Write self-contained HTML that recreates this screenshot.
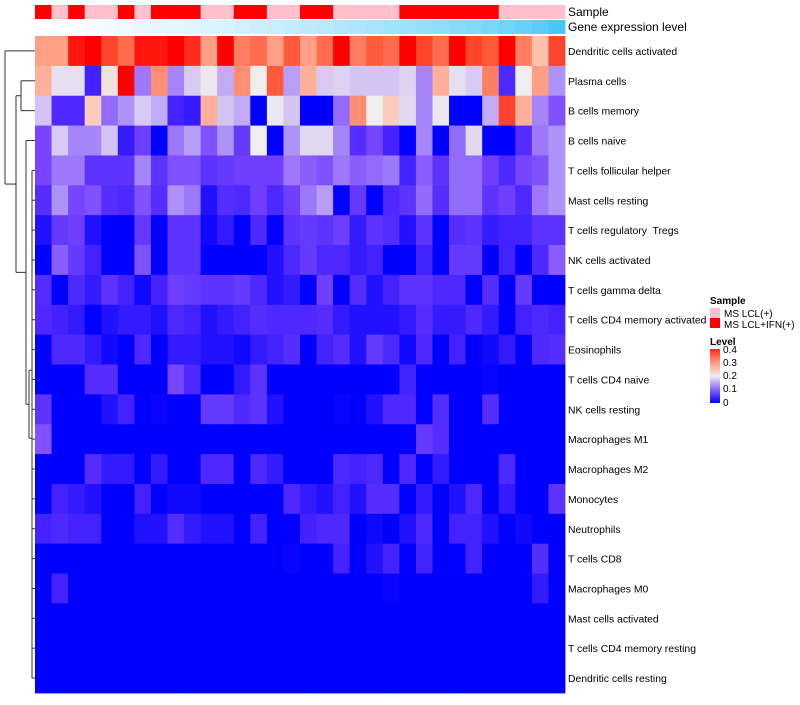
<!DOCTYPE html>
<html><head><meta charset="utf-8"><style>
body{margin:0;background:#fff;width:800px;height:700px;overflow:hidden;font-family:"Liberation Sans",sans-serif}
svg text{font-family:"Liberation Sans",sans-serif}
</style></head><body>
<svg id="chart" width="800" height="700" xmlns="http://www.w3.org/2000/svg">
<g id="dendro" stroke="#333" stroke-width="1" fill="none"></g>
<g id="anno"></g>
<g id="cells"></g>
<g id="labels" font-size="10.4" fill="#000" style="white-space:pre"></g>
<text x="568" y="16" font-size="12">Sample</text>
<text x="568" y="31" font-size="12">Gene expression level</text>
<g>
<text x="710" y="304" font-size="10" font-weight="bold">Sample</text>
<rect x="710" y="308" width="10" height="10" fill="#ffc0cb"/>
<text x="724" y="317" font-size="10">MS LCL(+)</text>
<rect x="710" y="318" width="10" height="10" fill="#ff0000"/>
<text x="724" y="328" font-size="10">MS LCL+IFN(+)</text>
<text x="710" y="345" font-size="10" font-weight="bold">Level</text>
<defs><linearGradient id="lg" x1="0" y1="1" x2="0" y2="0">
<stop offset="0" stop-color="#0000ff"/><stop offset="0.25" stop-color="#8866ff"/><stop offset="0.5" stop-color="#eeeeee"/><stop offset="0.75" stop-color="#ff9a80"/><stop offset="1" stop-color="#ff2a10"/></linearGradient></defs>
<rect x="710" y="349" width="10" height="54" fill="url(#lg)"/>
<g font-size="10">
<text x="723" y="353">0.4</text><text x="723" y="366">0.3</text><text x="723" y="379">0.2</text><text x="723" y="392">0.1</text><text x="723" y="406">0</text>
</g>
</g>
</svg>
<script>
const rowNames=["Dendritic cells activated","Plasma cells","B cells memory","B cells naive","T cells follicular helper","Mast cells resting","T cells regulatory\u00a0 Tregs","NK cells activated","T cells gamma delta","T cells CD4 memory activated","Eosinophils","T cells CD4 naive","NK cells resting","Macrophages M1","Macrophages M2","Monocytes","Neutrophils","T cells CD8","Macrophages M0","Mast cells activated","T cells CD4 memory resting","Dendritic cells resting"];
const sampleGroup=[1,0,1,0,0,1,0,1,1,1,0,0,1,1,0,0,1,1,0,0,0,0,1,1,1,1,1,1,0,0,0,0];
const geneExpr=[0,0.02,0.04,0.06,0.08,0.1,0.12,0.14,0.16,0.18,0.2,0.22,0.25,0.28,0.3,0.33,0.36,0.39,0.42,0.45,0.48,0.51,0.54,0.57,0.6,0.64,0.68,0.72,0.77,0.83,0.9,1];
const r0=[0.32,0.32,0.39,0.4,0.37,0.35,0.39,0.39,0.4,0.38,0.32,0.4,0.34,0.35,0.32,0.36,0.32,0.35,0.4,0.34,0.36,0.35,0.4,0.37,0.35,0.4,0.37,0.36,0.4,0.34,0.3,0.37];
const r1=[0.31,0.24,0.24,0.04,0.27,0.4,0.14,0.33,0.15,0.21,0.25,0.18,0.33,0.26,0.36,0.17,0.31,0.21,0.22,0.2,0.2,0.2,0.22,0.15,0.31,0.24,0.21,0.34,0.05,0.26,0.32,0.16];
const r2=[0.2,0.05,0.05,0.29,0.13,0.16,0.21,0.18,0.04,0.03,0.31,0.2,0.18,0,0.25,0.2,0,0,0.13,0.33,0.26,0.29,0.23,0.15,0.25,0,0,0.18,0.37,0.31,0.15,0.11];
const r3=[0.1,0.21,0.15,0.15,0.2,0.03,0.09,0,0.14,0.17,0.11,0.16,0.08,0.26,0,0.16,0.23,0.23,0.15,0.06,0.1,0.04,0,0.15,0,0.13,0.23,0,0,0.06,0.14,0.16];
const r4=[0.1,0.14,0.14,0.07,0.07,0.07,0.15,0.07,0.11,0.11,0.07,0.08,0.09,0.09,0.09,0.14,0.12,0.11,0.14,0.12,0.13,0.14,0.04,0.12,0.07,0.13,0.13,0.09,0.05,0.1,0.11,0.16];
const r5=[0.06,0.16,0.1,0.11,0.06,0.05,0.11,0.06,0.16,0.14,0.02,0.06,0.05,0.09,0.05,0.09,0.14,0.17,0,0.08,0,0.05,0.07,0.13,0.06,0.13,0.13,0.07,0.09,0.05,0.14,0.16];
const r6=[0.02,0.08,0.09,0.02,0,0,0.08,0,0.07,0.07,0.01,0.03,0,0.05,0,0.07,0.08,0.07,0.09,0.03,0.07,0.06,0.02,0.07,0,0.06,0.07,0.03,0.04,0.04,0.07,0.07];
const r7=[0,0.12,0.08,0.04,0,0,0.11,0,0.07,0.07,0,0,0,0,0.02,0.05,0.08,0.05,0.05,0.03,0.04,0,0,0.04,0,0.08,0.08,0,0.04,0,0.05,0.12];
const r8=[0.06,0,0.05,0.03,0.07,0.04,0.01,0.04,0.09,0.08,0.07,0.07,0.08,0.05,0.02,0.03,0,0.09,0,0.06,0.02,0.04,0.07,0.07,0.05,0.05,0,0.06,0,0.08,0,0];
const r9=[0.05,0.04,0.03,0,0.02,0.03,0.03,0.02,0.05,0.04,0.02,0.03,0.04,0.06,0.05,0.05,0.05,0.06,0.03,0.02,0.02,0.02,0.03,0.06,0.03,0.03,0.05,0.03,0,0.04,0.05,0.04];
const r10=[0,0.05,0.05,0.03,0.01,0,0.05,0,0.03,0.03,0.02,0.02,0.01,0.03,0.04,0.06,0,0.04,0.06,0.02,0.08,0.05,0.01,0.05,0,0.04,0,0.01,0.03,0,0.05,0.06];
const r11=[0,0,0,0.06,0.06,0,0,0,0.1,0.05,0,0,0.03,0.07,0,0,0,0,0,0,0,0,0.04,0,0,0,0,0.005,0,0,0,0];
const r12=[0.07,0,0,0,0.02,0.04,0,0.005,0,0,0.08,0.08,0.05,0.07,0.02,0,0,0,0.005,0,0.02,0.05,0.05,0,0.06,0,0,0.06,0,0,0,0];
const r13=[0.11,0,0,0,0,0,0,0,0,0,0,0,0,0,0,0,0,0,0,0,0,0,0,0.08,0.06,0,0,0,0,0,0,0];
const r14=[0,0,0,0.06,0.03,0.03,0,0.03,0,0,0.05,0.05,0,0.05,0.03,0,0,0,0.05,0.04,0.05,0,0.05,0,0.03,0,0,0,0.05,0,0,0];
const r15=[0,0.04,0.03,0.02,0,0,0.04,0,0.01,0.01,0,0,0,0,0,0.05,0.03,0.02,0.04,0.02,0.06,0.06,0,0.03,0,0.02,0.05,0,0.03,0,0,0.07];
const r16=[0.04,0.05,0.04,0.04,0,0,0.02,0.02,0.06,0.03,0.02,0.02,0,0.04,0,0,0.04,0.05,0.05,0,0.01,0,0.02,0.05,0,0.04,0.04,0.02,0,0.01,0,0];
const r17=[0,0,0,0,0,0,0,0,0,0,0,0,0,0,0,0.005,0,0,0.04,0,0.02,0.04,0,0.04,0,0,0.04,0,0,0,0.06,0];
const r18=[0,0.04,0,0,0,0,0,0,0,0,0,0,0,0,0,0,0,0,0,0,0,0.005,0,0,0,0,0,0,0,0,0.03,0];
const r19=[0,0,0,0,0,0,0,0,0,0,0,0,0,0,0,0,0,0,0,0,0,0,0,0,0,0,0,0,0,0,0,0];
const r20=[0,0,0,0,0,0,0,0,0,0,0,0,0,0,0,0,0,0,0,0,0,0,0,0,0,0,0,0,0,0,0,0];
const r21=[0,0,0,0,0,0,0,0,0,0,0,0,0,0,0,0,0,0,0,0,0,0,0,0,0,0,0,0,0,0,0,0];
const values=[r0,r1,r2,r3,r4,r5,r6,r7,r8,r9,r10,r11,r12,r13,r14,r15,r16,r17,r18,r19,r20,r21];

const NS="http://www.w3.org/2000/svg";
const X0=35,X1=565,Y0=36,Y1=693;
const nCol=sampleGroup.length,nRow=rowNames.length;
const cw=(X1-X0)/nCol,rh=(Y1-Y0)/nRow;
function xPos(i){return X0+i*cw;}
function yPos(j){return Y0+j*rh;}
const stops=[[0,[0,0,255]],[0.04,[68,34,255]],[0.1,[119,68,255]],[0.15,[166,133,249]],[0.2,[212,196,244]],[0.26,[238,238,238]],[0.3,[255,192,174]],[0.33,[255,143,114]],[0.36,[255,90,60]],[0.4,[255,0,0]]];
function color(v){
  if(v<=stops[0][0])return 'rgb(0,0,255)';
  for(let k=1;k<stops.length;k++){if(v<=stops[k][0]){const a=stops[k-1],b=stops[k];const t=(v-a[0])/(b[0]-a[0]);
    return 'rgb('+a[1].map((c,i)=>Math.round(c+(b[1][i]-c)*t)).join(',')+')';}}
  return 'rgb(255,0,0)';
}
function geneColor(t){const a=[255,255,255],b=[72,199,245];return 'rgb('+a.map((c,i)=>Math.round(c+(b[i]-c)*t)).join(',')+')';}
function mk(tag,attrs,parent){const e=document.createElementNS(NS,tag);for(const k in attrs)e.setAttribute(k,attrs[k]);parent.appendChild(e);return e;}
const cells=document.getElementById('cells');
for(let j=0;j<nRow;j++){for(let i=0;i<nCol;i++){
  const r=mk('rect',{x:xPos(i),y:yPos(j),width:cw+0.4,height:rh+0.4,fill:color(values[j][i])},cells);
  
  
}}
const anno=document.getElementById('anno');
for(let i=0;i<nCol;i++){
  const s=mk('rect',{x:xPos(i),y:5,width:cw+0.4,height:14,fill:sampleGroup[i]?'#ff0000':'#ffc0cb'},anno);
  
  
  const g=mk('rect',{x:xPos(i),y:20,width:cw+0.4,height:14,fill:geneColor(geneExpr[i])},anno);
  
  
}
const labels=document.getElementById('labels');
rowNames.forEach((n,j)=>{
  const t=mk('text',{x:568,y:yPos(j)+rh/2+4},labels);
  t.textContent=n;
  
  
});
const d=document.getElementById('dendro');
function yc(j){return yPos(j)+rh/2;}
function L(x1,y1,x2,y2){mk('line',{x1:x1,y1:y1,x2:x2,y2:y2},d);}
L(5,yc(0),35,yc(0));
L(21,yc(1),35,yc(1));L(21,yc(2),35,yc(2));L(21,yc(1),21,yc(2));
L(16,(yc(1)+yc(2))/2,21,(yc(1)+yc(2))/2);
L(26,yc(3),35,yc(3));
const lowMid=(yc(4)+yc(21))/2-20;
L(29,lowMid-34,29,lowMid+34);
L(26,yc(3),26,lowMid);L(26,lowMid,29,lowMid);
const cMid=(yc(3)+lowMid)/2;
L(16,(yc(1)+yc(2))/2,16,cMid);L(16,cMid,26,cMid);
const bMid=((yc(1)+yc(2))/2+cMid)/2;
L(5,yc(0),5,bMid);L(5,bMid,16,bMid);
L(29,lowMid-34,32,lowMid-34);L(29,lowMid+34,32,lowMid+34);
L(32,yc(4),32,yc(21));
for(let j=4;j<nRow;j++)L(32,yc(j),35,yc(j));
</script>
</body></html>
